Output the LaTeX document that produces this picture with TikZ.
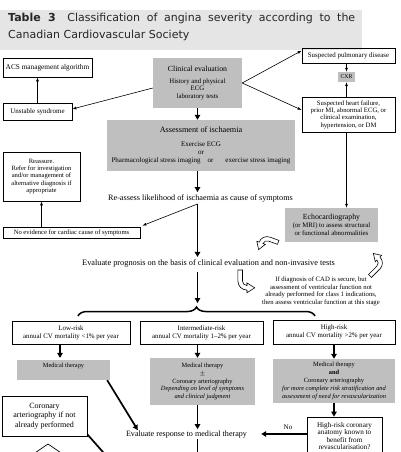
\documentclass[tikz,border=0pt]{standalone}
\usepackage{fontspec}
\setmainfont{Liberation Serif}
\newfontfamily\titlefont{DejaVu Sans}
\usetikzlibrary{arrows.meta,decorations.pathreplacing}
\begin{document}
\begin{tikzpicture}[x=1pt,y=-1pt,
  fs/.style={font=\fontsize{6.7}{7.4}\selectfont},
  fm/.style={font=\fontsize{6.9}{8.4}\selectfont},
  box/.style={draw, line width=0.7pt, inner sep=0pt, align=center, fm},
  gbox/.style={fill=black!25, inner sep=0pt, align=center, fm},
  txt/.style={inner sep=0pt, align=center},
  thinarrow/.style={-{Latex[length=4pt,width=3pt]}, line width=0.6pt},
  thickarrow/.style={-{Triangle[length=5pt,width=5.5pt]}, line width=1.7pt},
  thickline/.style={line width=1.7pt},
  harrow/.pic={\draw[line width=0.6pt, fill=white]
     (#1pt,7pt) -- (0pt,7pt) arc[start angle=90, end angle=180, radius=7pt]
     -- (-9pt,0pt) -- (-5.25pt,-6pt) -- (-1.5pt,0pt) -- (-3.5pt,0pt)
     arc[start angle=180, end angle=90, radius=3.5pt] -- (#1pt,3.5pt) -- cycle;},
]
\useasboundingbox (0,0) rectangle (400,452);
\clip (0,0) rectangle (400,452);
\fill[white] (0,0) rectangle (400,452);

% title band
\fill[black!10] (0,10) rectangle (362,50);
\node[anchor=north west, text width=347pt, align=justify, inner sep=0pt,
      font=\titlefont\fontsize{11}{17}\selectfont, text=black!85] (title) at (8,12.5)
  {\hyphenpenalty=10000\textbf{Table 3}\hspace{5pt} Classification of angina severity according to the\linebreak Canadian Cardiovascular Society};

% boxes
\node[box, font=\fontsize{7.3}{8}\selectfont, minimum width=89pt, minimum height=19pt] (acs) at (47.5,67.5) {ACS management algorithm};
\node[box, font=\fontsize{7}{8}\selectfont, minimum width=69pt, minimum height=17pt] (unst) at (37.5,111.5) {Unstable syndrome};
\node[gbox, font=\fontsize{6.8}{7.5}\selectfont, minimum width=89pt, minimum height=50pt] (clin) at (197.5,83)
  {{\fontsize{7.8}{9}\selectfont Clinical evaluation}\\[4.5pt] History and physical\\ ECG\\ laboratory tests};
\node[box, font=\fontsize{6.9}{8}\selectfont, minimum width=93pt, minimum height=15pt] (pulm) at (348.5,55.5) {Suspected pulmonary disease};
\node[gbox, font=\fontsize{5.8}{7}\selectfont, minimum width=17pt, minimum height=10pt] (cxr) at (346.5,77) {CXR};
\node[box, fs, minimum width=93pt, minimum height=35pt] (hf) at (348.5,114.5)
  {Suspected heart failure,\\ prior MI, abnormal ECG, or\\ clinical examination,\\ hypertension, or DM};
\node[gbox, font=\fontsize{7}{8.2}\selectfont, minimum width=188pt, minimum height=51pt] (assess) at (201,145.5)
  {{\fontsize{8.2}{9}\selectfont Assessment of ischaemia}\\[6pt] Exercise ECG\\ or\\
   Pharmacological stress imaging\hspace{7pt}or\hspace{12pt}exercise stress imaging};
\node[txt, font=\fontsize{8.2}{9}\selectfont] (reassess) at (200.5,198) {Re-assess likelihood of ischaemia as cause of symptoms};
\node[box, font=\fontsize{6.6}{7.4}\selectfont, minimum width=77pt, minimum height=49pt] (reassure) at (41.5,176.5)
  {Reassure.\\ Refer for investigation\\ and/or management of\\ alternative diagnosis if\\ appropriate};
\node[box, font=\fontsize{6.6}{7.4}\selectfont, minimum width=137pt, minimum height=11pt] (noev) at (71.5,232.5) {No evidence for cardiac cause of symptoms};
\node[gbox, font=\fontsize{6.8}{8}\selectfont, minimum width=93pt, minimum height=34pt] (echo) at (331.5,225)
  {{\fontsize{7.8}{9}\selectfont Echocardiography}\\ (or MRI) to assess structural\\ or functional abnormalities};
\node[txt, font=\fontsize{8.3}{9}\selectfont] (evalprog) at (208.5,263)
  {Evaluate prognosis on the basis of clinical evaluation and non-invasive tests};
\node[txt, font=\fontsize{6.7}{7.6}\selectfont] (ifdiag) at (321,291.5)
  {If diagnosis of CAD is secure, but\\ assessment of ventricular function not\\ already performed for class 1 indications,\\ then assess ventricular function at this stage};

\node[box, minimum width=118pt, minimum height=23pt] (low) at (71,333) {Low-risk\\ annual CV mortality <1\% per year};
\node[box, minimum width=123pt, minimum height=23pt] (inter) at (201.5,333) {Intermediate-risk\\ annual CV mortality 1--2\% per year};
\node[box, minimum width=122pt, minimum height=24pt] (high) at (334,332) {High-risk\\ annual CV mortality >2\% per year};

\node[gbox, minimum width=93pt, minimum height=20pt] (medlow) at (63.5,370) {};
\node[txt, font=\fontsize{6.3}{7}\selectfont] (medlowt) at (63.5,366) {Medical therapy};
\node[gbox, minimum width=105pt, minimum height=47pt, font=\fontsize{6.4}{7.9}\selectfont] (medint) at (202.5,381.5)
  {Medical therapy\\ $\pm$\\ Coronary arteriography\\ \textit{Depending on level of symptoms}\\ \textit{and clinical judgment}};
\node[gbox, minimum width=122pt, minimum height=44pt, font=\fontsize{6.4}{7.9}\selectfont] (medhigh) at (334,381)
  {Medical therapy\\ \textbf{and}\\ Coronary arteriography\\ \textit{for more complete risk stratification and}\\ \textit{assessment of need for revascularization}};
\node[box, font=\fontsize{7.2}{7.4}\selectfont, minimum width=75pt, minimum height=38pt] (hrc) at (344.5,436)
  {High-risk coronary\\ anatomy known to\\ benefit from\\ revascularisation?};
\node[txt, font=\fontsize{7}{8}\selectfont] (no) at (288,427) {No};
\node[txt, font=\fontsize{8.1}{9}\selectfont] (evalresp) at (186.5,435) {Evaluate response to medical therapy};
\node[box, font=\fontsize{8}{9.6}\selectfont, minimum width=85pt, minimum height=40pt] (corart) at (44.5,416)
  {Coronary\\ arteriography if not\\ already performed};

% partial diamond at the bottom
\draw[line width=0.7pt] (26,459) -- (48,444) -- (70,459);

% connectors
\draw[thinarrow] (unst.north) -- (unst.north |- acs.south);
\draw[thinarrow] ([yshift=-5pt]clin.west) -- ([yshift=2.5pt]unst.east);
\draw[thinarrow] (clin.east) -- ([yshift=-3pt]pulm.north west);
\draw[thinarrow] (clin.east) -- ([yshift=4.5pt]hf.west);
\draw[thinarrow] (cxr.north |- pulm.south) -- (cxr.north);
\draw[thinarrow] (cxr.south |- hf.north) -- (cxr.south);
\draw[thinarrow] (cxr.south |- hf.south) -- (cxr.south |- echo.north);
\draw[thickarrow] (clin.south) -- (clin.south |- assess.north);
\draw[thickarrow] (clin.south |- assess.south) -- ([yshift=2pt]clin.south |- reassess.north);
\coordinate (fork) at (197.5,204);
\draw[thinarrow] (fork) -- ([xshift=2pt,yshift=1pt]noev.north east);
\draw[thickarrow] (fork) -- ([yshift=2pt]fork |- evalprog.north);
\draw[thinarrow] (reassure.south |- noev.north) -- (reassure.south);

% hollow curved arrows
\pic[rotate=-20, scale=1.2] at (267,245) {harrow=8};
\pic[rotate=-135, scale=1.2] at (374,263) {harrow=10};
\pic[rotate=90, scale=1.3] at (247,281) {harrow=8.5};

% brace
\coordinate (bl) at (78,316);
\coordinate (br) at (315,316);
\draw[line width=1.5pt, decorate, decoration={brace, amplitude=9pt}] (bl) -- (br);
\draw[thickarrow] (clin.south |- evalprog.south) ++(0,5) -- (197.5,303);

\draw[thickarrow] (medlow.north |- low.south) ++(-3.5,0) -- ++(0,13);
\draw[thickarrow] (clin.south |- inter.south) -- (clin.south |- medint.north);
\draw[thickarrow] (high.south) -- (medhigh.north);
\draw[thickarrow] (medhigh.south) -- (medhigh.south |- hrc.north);
\draw[thickarrow] ([yshift=2pt]hrc.west) -- ([xshift=14pt,yshift=2pt]evalresp.east |- hrc.west);
\draw[thickarrow] (clin.south |- medint.south) -- ([yshift=2pt]clin.south |- evalresp.north);
\draw[thickarrow] ([xshift=-3pt]medlow.south east) -- ([xshift=12pt,yshift=1pt]evalresp.north west);
\coordinate (bot1) at (197.5,460);
\coordinate (bot2) at (110,460);
\draw[thickline] (clin.south |- evalresp.south) -- (bot1);
\draw[thickline] ([yshift=2pt]corart.south east) -- (bot2);
\end{tikzpicture}
\end{document}
